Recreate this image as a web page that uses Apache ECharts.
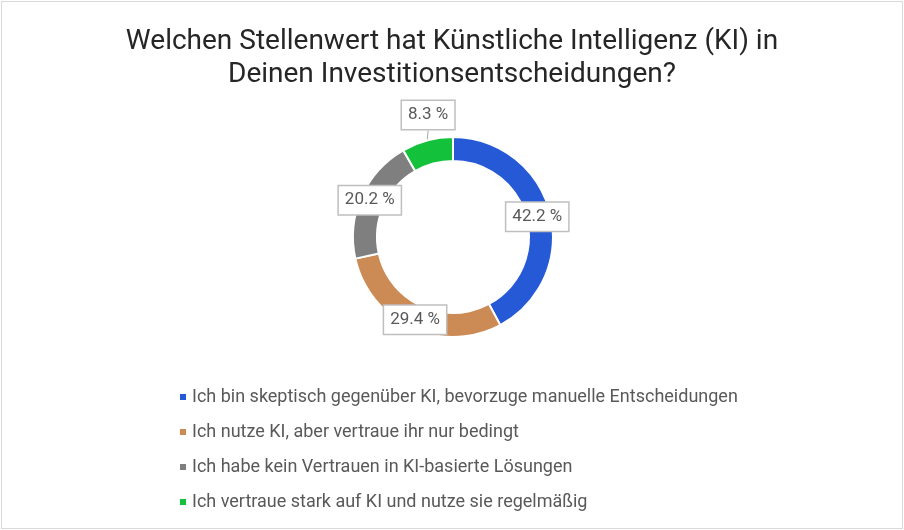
<!DOCTYPE html>
<html>
<head>
<meta charset="utf-8">
<script src="https://cdn.jsdelivr.net/npm/echarts@6/dist/echarts.min.js"></script>
<style>
  html, body { margin: 0; padding: 0; background: #fff; }
  #chart {
    position: absolute; left: 1px; top: 1px;
    width: 900px; height: 526px;
    border: 1px solid #d9d9d9;
  }
</style>
</head>
<body>
<div id="chart"></div>
<script>
// Antworten und Anteile in %
const categories = [
  'Ich bin skeptisch gegenüber KI, bevorzuge manuelle Entscheidungen',
  'Ich nutze KI, aber vertraue ihr nur bedingt',
  'Ich habe kein Vertrauen in KI-basierte Lösungen',
  'Ich vertraue stark auf KI und nutze sie regelmäßig'
];
const values = [42.2, 29.4, 20.2, 8.3];
const colors = ['#2659d6', '#cc8b55', '#7f7f7f', '#14c13a'];

const chart = echarts.init(document.getElementById('chart'));

const seriesData = categories.map((name, i) => {
  const item = { name: name, value: values[i], itemStyle: { color: colors[i] } };
  // kleinstes Segment: Beschriftung oberhalb mit Linie
  if (i === 3) {
    item.label = { position: 'outside' };
    item.labelLine = { show: true, length: 6, length2: 0, lineStyle: { color: '#a6a6a6', width: 1 } };
  }
  return item;
});

chart.setOption({
  animation: false,
  title: {
    text: 'Welchen Stellenwert hat Künstliche Intelligenz (KI) in\nDeinen Investitionsentscheidungen?',
    left: 'center',
    top: 18,
    textStyle: {
      fontFamily: 'Roboto',
      fontSize: 28,
      fontWeight: 'normal',
      color: '#262626',
      lineHeight: 33
    }
  },
  legend: {
    orient: 'vertical',
    left: 171,
    top: 381,
    itemWidth: 8,
    itemHeight: 8,
    itemGap: 17,
    icon: 'rect',
    textStyle: {
      fontFamily: 'Roboto',
      fontSize: 18,
      color: '#595959',
      lineHeight: 18
    },
    data: categories
  },
  series: [
    {
      type: 'pie',
      center: [451, 235],
      radius: [76, 100],
      startAngle: 90,
      clockwise: true,
      itemStyle: { borderColor: '#fff', borderWidth: 2 },
      label: {
        show: true,
        position: 'inside',
        formatter: p => p.value.toFixed(1) + ' %',
        fontFamily: 'Roboto',
        fontSize: 17,
        color: '#595959',
        backgroundColor: '#fff',
        borderColor: '#bfbfbf',
        borderWidth: 1.5,
        padding: [6, 6, 5, 6]
      },
      labelLine: { show: false },
      labelLayout: function (params) {
        if (params.dataIndex === 3) {
          return {
            x: params.rect.x + params.rect.width / 2,
            y: params.rect.y - 21,
            align: 'center',
            verticalAlign: 'middle'
          };
        }
        if (params.dataIndex === 0) {
          return { dx: -4, dy: 2 };
        }
        return {};
      },
      emphasis: { disabled: true },
      data: seriesData
    }
  ]
});
</script>
</body>
</html>
